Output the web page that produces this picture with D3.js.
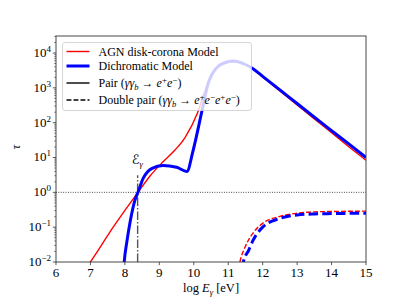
<!DOCTYPE html>
<html>
<head>
<meta charset="utf-8">
<script src="https://d3js.org/d3.v7.min.js"></script>
<style>
  body { margin: 0; background: #fff; }
</style>
</head>
<body>
<div id="chart"></div>
<script>
// ---- data (x = log E [eV], y = log10 tau) ----
var redX   = [6.8, 7.0, 7.28, 7.66, 8.0, 8.38, 8.73, 9.1, 9.46, 9.75, 10.1, 10.3, 10.56, 10.8, 11.1, 11.4, 11.72, 12.0, 12.5, 13.0, 13.5, 14.0, 14.5, 15.0];
var redLog = [-2.3, -2.0, -1.58, -1.0, -0.52, 0.0, 0.47, 0.87, 1.22, 1.58, 2.26, 2.85, 3.45, 3.68, 3.75, 3.71, 3.54, 3.31, 2.91, 2.51, 2.11, 1.71, 1.31, 0.92];

var blueX   = [7.95, 7.98, 8.06, 8.15, 8.29, 8.38, 8.53, 8.79, 9.1, 9.5, 9.8, 9.98, 10.24, 10.41, 10.67, 10.9, 11.14, 11.5, 11.72, 12.0, 12.5, 13.0, 13.5, 14.0, 14.5, 15.0];
var blueLog = [-2.4, -2.0, -1.4, -0.86, -0.23, 0.0, 0.4, 0.69, 0.77, 0.72, 0.6, 1.2, 2.35, 3.1, 3.58, 3.72, 3.77, 3.67, 3.55, 3.33, 2.94, 2.55, 2.16, 1.77, 1.39, 1.0];

var redPairX   = [11.3, 11.34, 11.5, 11.72, 12.0, 12.5, 13.0, 13.5, 14.0, 15.0];
var redPairLog = [-2.2, -2.0, -1.55, -1.17, -0.89, -0.69, -0.6, -0.56, -0.55, -0.54];

var bluePairX   = [11.4, 11.44, 11.6, 11.72, 12.0, 12.5, 13.0, 13.5, 14.0, 15.0];
var bluePairLog = [-2.2, -2.0, -1.65, -1.38, -1.0, -0.75, -0.65, -0.62, -0.61, -0.6];

var xTicks = [6, 7, 8, 9, 10, 11, 12, 13, 14, 15];
var yTickExp = [-2, -1, 0, 1, 2, 3, 4];
var eThreshold = 8.37;      // E_gamma marker
var eThresholdTop = 0.49;   // log tau where the dash-dot stops

var legendLabels = ["AGN disk-corona Model", "Dichromatic Model", "Pair", "Double pair"];

var serif = "'Liberation Serif', 'Times New Roman', serif";

var svgWidth = 407;
var svgHeight = 305;
var margin = { top: 36, right: 41, bottom: 43, left: 56 };
var width = svgWidth - margin.left - margin.right;
var height = svgHeight - margin.top - margin.bottom;

var svg = d3.select("#chart")
  .append("svg")
  .attr("width", svgWidth)
  .attr("height", svgHeight)
  .attr("font-family", serif);

var chartGroup = svg.append("g")
  .attr("transform", `translate(${margin.left}, ${margin.top})`);

var xScale = d3.scaleLinear().domain([6, 15]).range([0, width]);
var yScale = d3.scaleLog().domain([1e-2, Math.pow(10, 4.488)]).range([height, 0]);

// clip the curves to the axes box
svg.append("defs").append("clipPath").attr("id", "plotClip")
  .append("rect").attr("width", width).attr("height", height);

function toPoints(xs, logs) {
  return xs.map((x, i) => ({ x: x, tau: Math.pow(10, logs[i]) }));
}

var line = d3.line()
  .x(d => xScale(d.x))
  .y(d => yScale(d.tau))
  .curve(d3.curveMonotoneX);

var curves = chartGroup.append("g").attr("clip-path", "url(#plotClip)");

// tau = 1 reference
curves.append("line")
  .attr("x1", 0).attr("x2", width)
  .attr("y1", yScale(1)).attr("y2", yScale(1))
  .attr("stroke", "#000").attr("stroke-width", 0.8)
  .attr("stroke-dasharray", "0.9,1.5");

// threshold marker
curves.append("line")
  .attr("x1", xScale(eThreshold)).attr("x2", xScale(eThreshold))
  .attr("y1", height).attr("y2", yScale(Math.pow(10, eThresholdTop)))
  .attr("stroke", "#555").attr("stroke-width", 1.4)
  .attr("stroke-dasharray", "8.5,2.1,1.3,2.1");

curves.append("path").datum(toPoints(redX, redLog))
  .attr("d", line).attr("fill", "none")
  .attr("stroke", "#ff0000").attr("stroke-width", 1.4);

curves.append("path").datum(toPoints(blueX, blueLog))
  .attr("d", line).attr("fill", "none")
  .attr("stroke", "#0000ff").attr("stroke-width", 3);

curves.append("path").datum(toPoints(redPairX, redPairLog))
  .attr("d", line).attr("fill", "none")
  .attr("stroke", "#ff0000").attr("stroke-width", 1.4)
  .attr("stroke-dasharray", "4.9,2.1");

curves.append("path").datum(toPoints(bluePairX, bluePairLog))
  .attr("d", line).attr("fill", "none")
  .attr("stroke", "#0000ff").attr("stroke-width", 3)
  .attr("stroke-dasharray", "9.5,4.2");

// E_gamma label
var eLabel = chartGroup.append("text")
  .attr("x", xScale(eThreshold) - 6)
  .attr("y", yScale(Math.pow(10, 0.8)))
  .style("font-size", "13px");
eLabel.append("tspan").attr("font-family", "'DejaVu Sans'").text("ℰ");
eLabel.append("tspan").attr("dy", 3).style("font-size", "8.5px").style("font-style", "italic").text("γ");

// axes box
chartGroup.append("rect")
  .attr("width", width).attr("height", height)
  .attr("fill", "none").attr("stroke", "#333").attr("stroke-width", 0.9);

// x ticks
var xAxisG = chartGroup.append("g").attr("transform", `translate(0, ${height})`);
xTicks.forEach(function(t) {
  xAxisG.append("line")
    .attr("x1", xScale(t)).attr("x2", xScale(t))
    .attr("y1", 0).attr("y2", 3.2)
    .attr("stroke", "#333").attr("stroke-width", 0.8);
  xAxisG.append("text")
    .attr("x", xScale(t)).attr("y", 15)
    .attr("text-anchor", "middle")
    .style("font-size", "13px")
    .text(t);
});

// y ticks (log, with minors)
var yAxisG = chartGroup.append("g");
for (var e = -2; e <= 4; e++) {
  for (var m = 1; m <= 9; m++) {
    var v = m * Math.pow(10, e);
    if (v > yScale.domain()[1]) break;
    yAxisG.append("line")
      .attr("x1", m === 1 ? -3.2 : -1.8).attr("x2", 0)
      .attr("y1", yScale(v)).attr("y2", yScale(v))
      .attr("stroke", "#333").attr("stroke-width", m === 1 ? 0.8 : 0.6);
  }
}
yTickExp.forEach(function(p) {
  var lbl = yAxisG.append("text")
    .attr("x", -5).attr("y", yScale(Math.pow(10, p)) + 4)
    .attr("text-anchor", "end")
    .style("font-size", "13px");
  lbl.append("tspan").text("10");
  lbl.append("tspan").attr("dy", -5).style("font-size", "9px")
    .text(p < 0 ? "\u2212" + (-p) : p);
});

// axis labels
var xLabel = chartGroup.append("text")
  .attr("x", width / 2).attr("y", height + 30)
  .attr("text-anchor", "middle")
  .style("font-size", "12.5px");
xLabel.append("tspan").text("log ");
xLabel.append("tspan").style("font-style", "italic").text("E");
xLabel.append("tspan").attr("dy", 3).style("font-size", "8.5px").style("font-style", "italic").text("γ");
xLabel.append("tspan").attr("dy", -3).text(" [eV]");

chartGroup.append("text")
  .attr("transform", `translate(${20 - margin.left}, ${yScale(Math.pow(10, 1.3))}) rotate(-90)`)
  .attr("text-anchor", "middle")
  .style("font-size", "12.5px").style("font-style", "italic")
  .text("τ");

// legend
var legend = chartGroup.append("g").attr("transform", "translate(6.5, 6.5)");
legend.append("rect")
  .attr("width", 189).attr("height", 68).attr("rx", 2.5)
  .attr("fill", "#fff").attr("fill-opacity", 0.8)
  .attr("stroke", "#ccc").attr("stroke-width", 0.8);

var legendRows = [
  { y: 9, color: "#ff0000", w: 1.4, dash: null },
  { y: 23.5, color: "#0000ff", w: 3, dash: null },
  { y: 40.5, color: "#000", w: 1.4, dash: null },
  { y: 57.5, color: "#000", w: 1.4, dash: "4.9,2.1" }
];

// "(γγ_b → e+e- ...)" built from tspans
function addReaction(t, charges) {
  t.append("tspan").text(" (");
  t.append("tspan").style("font-style", "italic").text("γγ");
  t.append("tspan").attr("dy", 2.5).style("font-size", "8.5px").style("font-style", "italic").text("b");
  t.append("tspan").attr("dy", -2.5).text(" → ");
  charges.forEach(function(s, k) {
    t.append("tspan").attr("dy", k === 0 ? 0 : 4).style("font-style", "italic").text("e");
    t.append("tspan").attr("dy", -4).style("font-size", "9px").text(s);
  });
  t.append("tspan").attr("dy", 4).text(")");
}

legendRows.forEach(function(r, i) {
  legend.append("line")
    .attr("x1", 4).attr("x2", 27)
    .attr("y1", r.y).attr("y2", r.y)
    .attr("stroke", r.color).attr("stroke-width", r.w)
    .attr("stroke-dasharray", r.dash);
  var t = legend.append("text")
    .attr("x", 36).attr("y", r.y + 4)
    .style("font-size", "12px")
    .text(legendLabels[i]);
  if (i === 2) addReaction(t, ["+", "−"]);
  if (i === 3) addReaction(t, ["+", "−", "+", "−"]);
});
</script>
</body>
</html>
